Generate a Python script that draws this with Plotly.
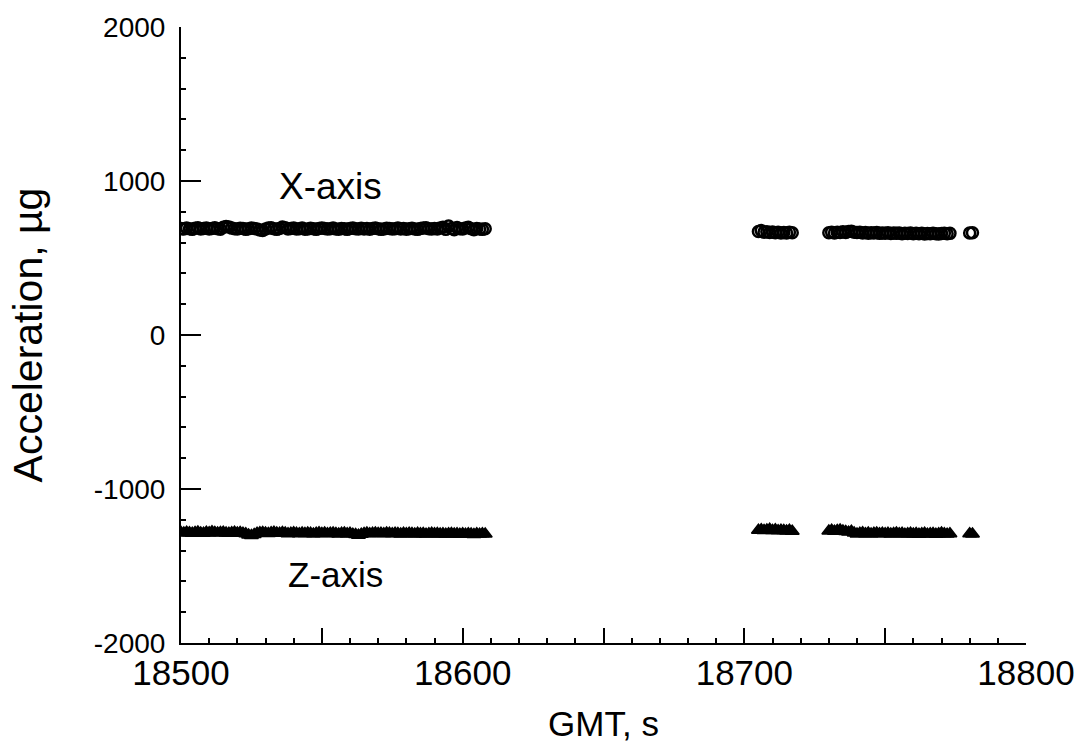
import plotly.graph_objects as go

# ---- data ----
t_seg1 = [18500, 18501, 18502, 18503, 18504, 18505, 18506, 18507, 18508, 18509,
          18510, 18511, 18512, 18513, 18514, 18515, 18516, 18517, 18518, 18519,
          18520, 18521, 18522, 18523, 18524, 18525, 18526, 18527, 18528, 18529,
          18530, 18531, 18532, 18533, 18534, 18535, 18536, 18537, 18538, 18539,
          18540, 18541, 18542, 18543, 18544, 18545, 18546, 18547, 18548, 18549,
          18550, 18551, 18552, 18553, 18554, 18555, 18556, 18557, 18558, 18559,
          18560, 18561, 18562, 18563, 18564, 18565, 18566, 18567, 18568, 18569,
          18570, 18571, 18572, 18573, 18574, 18575, 18576, 18577, 18578, 18579,
          18580, 18581, 18582, 18583, 18584, 18585, 18586, 18587, 18588, 18589,
          18590, 18591, 18592, 18593, 18594, 18595, 18596, 18597, 18598, 18599,
          18600, 18601, 18602, 18603, 18604, 18605, 18606, 18607, 18608]

x_seg1 = [692, 688, 695, 690, 686, 693, 697, 689, 691, 694,
          688, 692, 696, 690, 687, 699, 705, 702, 694, 690,
          688, 693, 691, 686, 690, 695, 692, 689, 682, 679,
          688, 694, 697, 690, 686, 692, 701, 696, 689, 691,
          694, 688, 690, 695, 687, 689, 693, 690, 686, 692,
          695, 691, 688, 690, 694, 689, 687, 692, 690, 686,
          691, 694, 690, 688, 693, 689, 691, 687, 692, 695,
          690, 686, 689, 693, 691, 688, 690, 694, 689, 692,
          687, 690, 693, 689, 686, 691, 694, 697, 690, 688,
          692, 689, 695, 700, 686, 708, 692, 684, 698, 690,
          688, 695, 700, 690, 684, 692, 688, 686, 690]

z_seg1 = [-1283, -1286, -1280, -1284, -1288, -1282, -1279, -1285, -1287, -1281,
          -1284, -1278, -1282, -1286, -1283, -1280, -1285, -1288, -1284, -1281,
          -1286, -1283, -1287, -1290, -1298, -1302, -1296, -1288, -1284, -1282,
          -1286, -1289, -1284, -1281, -1285, -1288, -1283, -1286, -1290, -1287,
          -1284, -1288, -1291, -1286, -1289, -1285, -1288, -1292, -1287, -1284,
          -1289, -1286, -1290, -1287, -1285, -1289, -1292, -1288, -1286, -1290,
          -1288, -1293, -1296, -1300, -1294, -1289, -1286, -1290, -1288, -1285,
          -1289, -1287, -1290, -1286, -1288, -1291, -1287, -1289, -1292, -1288,
          -1290, -1287, -1289, -1292, -1288, -1291, -1289, -1293, -1290, -1288,
          -1291, -1289, -1292, -1290, -1293, -1291, -1289, -1292, -1290, -1294,
          -1291, -1293, -1290, -1292, -1295, -1291, -1293, -1290, -1292]

t_seg2 = [18705, 18706, 18707, 18708, 18709, 18710, 18711, 18712, 18713, 18714,
          18715, 18716, 18717,
          18730, 18731, 18732, 18733, 18734, 18735, 18736, 18737, 18738, 18739,
          18740, 18741, 18742, 18743, 18744, 18745, 18746, 18747, 18748, 18749,
          18750, 18751, 18752, 18753, 18754, 18755, 18756, 18757, 18758, 18759,
          18760, 18761, 18762, 18763, 18764, 18765, 18766, 18767, 18768, 18769,
          18770, 18771, 18772, 18773,
          18780, 18781]

x_seg2 = [672, 678, 668, 670, 665, 669, 664, 667, 662, 666,
          663, 668, 664,
          664, 667, 662, 668, 665, 670, 666, 672, 674, 668,
          665, 667, 663, 666, 661, 664, 662, 665, 660, 663,
          661, 664, 659, 662, 660, 663, 658, 661, 659, 662,
          657, 660, 658, 661, 656, 659, 657, 660, 658, 656,
          659, 661, 658, 660,
          662, 664]

z_seg2 = [-1268, -1264, -1270, -1266, -1262, -1269, -1265, -1271, -1267, -1270,
          -1272, -1268, -1274,
          -1272, -1268, -1274, -1270, -1266, -1272, -1276, -1280, -1274, -1286,
          -1292, -1288, -1284, -1290, -1286, -1292, -1288, -1285, -1290, -1287,
          -1291, -1288, -1292, -1289, -1286, -1291, -1288, -1293, -1290, -1287,
          -1292, -1289, -1294, -1290, -1288, -1293, -1291, -1289, -1294, -1291,
          -1286, -1290, -1293, -1291,
          -1290, -1292]

x_ticks = [18500, 18550, 18600, 18650, 18700, 18750, 18800]
x_tick_text = ["18500", "", "18600", "", "18700", "", "18800"]
y_ticks = [-2000, -1000, 0, 1000, 2000]
y_tick_text = ["-2000", "-1000", "0", "1000", "2000"]

FONT = "Liberation Sans, Arial, Helvetica, sans-serif"

fig = go.Figure()

fig.add_trace(go.Scatter(
    x=t_seg1 + t_seg2, y=x_seg1 + x_seg2, mode="markers", name="X-axis",
    marker=dict(symbol="circle-open", size=11, color="black", line=dict(width=2.5, color="black")),
))
fig.add_trace(go.Scatter(
    x=t_seg1 + t_seg2, y=z_seg1 + z_seg2, mode="markers", name="Z-axis",
    marker=dict(symbol="triangle-up", size=12, color="black", line=dict(width=1.5, color="black")),
))

fig.add_annotation(x=18553, y=965, text="X-axis", showarrow=False,
                   font=dict(family=FONT, size=37, color="black"))
fig.add_annotation(x=18555, y=-1558, text="Z-axis", showarrow=False,
                   font=dict(family=FONT, size=35, color="black"))

fig.update_layout(
    width=1087, height=749,
    margin=dict(l=181, r=57, t=21, b=103),
    paper_bgcolor="white", plot_bgcolor="white",
    showlegend=False,
    font=dict(family=FONT, color="black"),
)

fig.update_xaxes(
    range=[18500, 18800], showgrid=False, zeroline=False,
    showline=True, linecolor="black", linewidth=2,
    tickmode="array", tickvals=x_ticks, ticktext=x_tick_text,
    ticks="inside", ticklen=15, tickwidth=2, tickcolor="black",
    tickfont=dict(family=FONT, size=35, color="black"),
    ticklabelstandoff=-2,
    minor=dict(tickmode="linear", tick0=18500, dtick=10, ticks="inside",
               ticklen=5, tickwidth=1.5, tickcolor="black", showgrid=False),
    title=dict(text="GMT, s", font=dict(family=FONT, size=35, color="black"), standoff=20),
)

fig.update_yaxes(
    range=[-2000, 2000], showgrid=False, zeroline=False,
    showline=True, linecolor="black", linewidth=2,
    tickmode="array", tickvals=y_ticks, ticktext=y_tick_text,
    ticks="inside", ticklen=20, tickwidth=2, tickcolor="black",
    tickfont=dict(family=FONT, size=28, color="black"),
    ticklabelstandoff=8,
    minor=dict(tickmode="linear", tick0=-2000, dtick=200, ticks="inside",
               ticklen=5, tickwidth=1.5, tickcolor="black", showgrid=False),
    title=dict(text="Acceleration, µg", font=dict(family=FONT, size=41, color="black"), standoff=38),
)

fig.write_html("out.html")
